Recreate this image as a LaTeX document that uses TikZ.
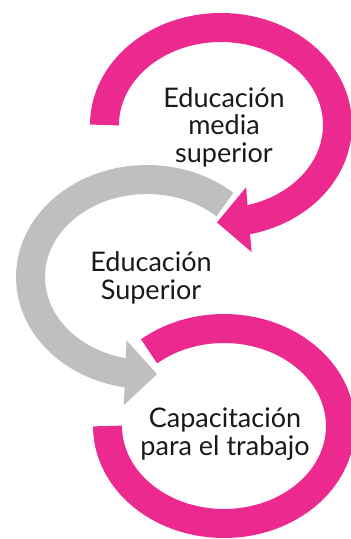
\documentclass[tikz,border=0pt]{standalone}
\usepackage{fontspec}
\setmainfont{Lato}
\usetikzlibrary{arrows.meta,bending}
\definecolor{rosa}{RGB}{236,41,142}
\definecolor{gris}{RGB}{191,191,191}
\begin{document}
\begin{tikzpicture}[x=1pt,y=1pt,
		anillo/.style={line width=29pt,
			preaction={draw=black,opacity=.1,arrows=-,transform canvas={shift={(1pt,-2pt)}}}},
		punta/.style={-{Triangle[flex,length=32pt,width=63pt]}},
		texto/.style={align=center,inner sep=0pt,text=black!90,font=\fontsize{27}{27.5}\selectfont}]
	\useasboundingbox (0,0) rectangle (351,539);
	\coordinate (c1) at (221,414);
	\coordinate (c2) at (147,262);
	\coordinate (c3) at (224,113);
	% arcos
	\draw[anillo,punta,rosa] ([shift={(180:116.5 and 97.5)}]c1) arc[start angle=180,end angle=-92,x radius=116.5,y radius=97.5];
	\draw[anillo,punta,gris] ([shift={(48:116.5 and 97.5)}]c2) arc[start angle=48,end angle=275,x radius=116.5,y radius=97.5];
	\draw[anillo,rosa] ([shift={(130:116.5 and 97.5)}]c3) arc[start angle=130,end angle=-180,x radius=116.5,y radius=97.5];
	% textos
	\node[texto] (media) at (224,412) {Educación\\media\\superior};
	\node[texto] (superior) at (151,261) {Educación\\Superior};
	\node[texto] (trabajo) at (225,105) {Capacitación\\para el trabajo};
\end{tikzpicture}
\end{document}
